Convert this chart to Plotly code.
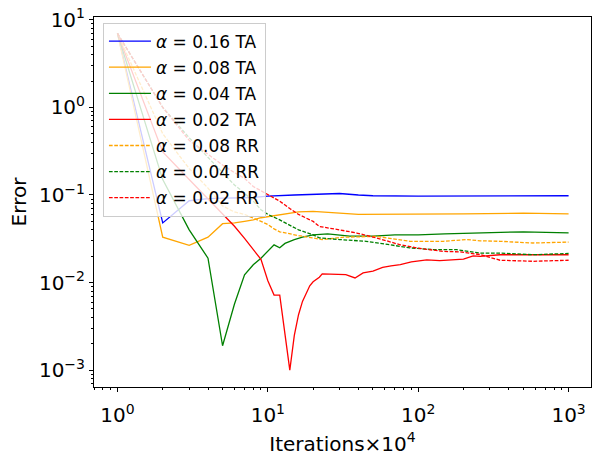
import plotly.graph_objects as go

# values (x = iterations x 10^4, y = error)
ta016_x = [1, 2, 3, 4, 5, 6, 7, 8, 10, 15, 20, 25, 30, 40, 50, 100, 200, 500, 1000]
ta016_y = [7, 0.048, 0.086, 0.091, 0.092, 0.092, 0.093, 0.094, 0.097, 0.1, 0.102, 0.104, 0.104, 0.1, 0.098,
           0.097, 0.097, 0.098, 0.098]

ta008_x = [1, 2, 3, 4, 5, 6, 7, 8, 9, 11, 13, 16, 20, 25, 30, 40, 50, 70, 100, 200, 500, 1000]
ta008_y = [7, 0.033, 0.0266, 0.033, 0.047, 0.048, 0.05, 0.052, 0.055, 0.058, 0.06, 0.064, 0.065, 0.064,
           0.062, 0.06, 0.06, 0.06, 0.06, 0.061, 0.062, 0.061]

ta004_x = [1, 2, 3, 4, 5, 6, 7, 8, 9, 10, 11, 12, 13, 15, 17, 20, 25, 35, 50, 70, 100, 150, 300, 500, 1000]
ta004_y = [7, 0.15, 0.04, 0.019, 0.0019, 0.0057, 0.0123, 0.016, 0.019, 0.023, 0.027, 0.025, 0.028, 0.031,
           0.033, 0.035, 0.036, 0.034, 0.034, 0.035, 0.035, 0.036, 0.037, 0.038, 0.037]

ta002_x = [1, 2, 3, 4, 5, 6, 7, 8, 9, 10, 11, 12, 13, 14, 15, 16, 17, 18, 19, 20, 22, 23, 25, 27, 30,
           33, 38, 43, 50, 58, 66, 76, 90, 114, 139, 163, 200, 232, 258, 350, 580, 1000]
ta002_y = [7, 0.31, 0.15, 0.09, 0.06, 0.044, 0.032, 0.024, 0.0184, 0.0105, 0.0072, 0.0072, 0.0027, 0.001,
           0.0025, 0.0043, 0.0061, 0.0076, 0.0092, 0.0102, 0.0115, 0.0126, 0.0125, 0.0126, 0.0125,
           0.0123, 0.0113, 0.0129, 0.0135, 0.0149, 0.0155, 0.016, 0.0172, 0.0182, 0.0178, 0.0182, 0.0185,
           0.0202, 0.0199, 0.0208, 0.0208, 0.0208]

rr008_x = [1, 2, 3, 4, 5, 6, 7, 8, 9, 10, 11, 12, 14, 16, 23, 32, 53, 88, 147, 210, 258, 350, 580, 1000]
rr008_y = [7, 0.5, 0.2, 0.12, 0.075, 0.064, 0.06, 0.055, 0.05, 0.046, 0.041, 0.038, 0.036, 0.0344, 0.031,
           0.033, 0.0337, 0.0296, 0.0296, 0.031, 0.03, 0.0296, 0.0283, 0.029]

rr004_x = [1, 2, 3, 4, 5, 6, 7, 8, 9, 10, 12, 14, 16, 20, 22, 30, 45, 65, 88, 126, 180, 258, 350, 580, 1000]
rr004_y = [7, 1.0, 0.45, 0.27, 0.18, 0.13, 0.105, 0.085, 0.068, 0.06, 0.052, 0.045, 0.04, 0.035, 0.0324,
           0.031, 0.0296, 0.027, 0.0249, 0.0238, 0.0238, 0.0217, 0.0217, 0.0208, 0.0215]

rr002_x = [1, 2, 3, 4, 5, 6, 7, 8, 10, 12, 14, 16, 20, 22, 30, 39, 53, 76, 98, 147, 190, 258, 350, 580, 1000]
rr002_y = [7, 1.0, 0.42, 0.29, 0.22, 0.18, 0.155, 0.125, 0.1, 0.085, 0.07, 0.06, 0.05, 0.0437, 0.04,
           0.0368, 0.0323, 0.027, 0.0248, 0.0227, 0.0224, 0.0209, 0.018, 0.0175, 0.018]

names = ["<i>α</i> = 0.16 TA", "<i>α</i> = 0.08 TA", "<i>α</i> = 0.04 TA", "<i>α</i> = 0.02 TA",
         "<i>α</i> = 0.08 RR", "<i>α</i> = 0.04 RR", "<i>α</i> = 0.02 RR"]

y_tickvals = [0.001, 0.01, 0.1, 1, 10]
y_ticktext = ["10<sup>−3</sup>", "10<sup>−2</sup>", "10<sup>−1</sup>", "10<sup>0</sup>", "10<sup>1</sup>"]
x_tickvals = [1, 10, 100, 1000]
x_ticktext = ["10<sup>0</sup>", "10<sup>1</sup>", "10<sup>2</sup>", "10<sup>3</sup>"]

series = [
    (ta016_x, ta016_y, "blue", "solid"),
    (ta008_x, ta008_y, "orange", "solid"),
    (ta004_x, ta004_y, "green", "solid"),
    (ta002_x, ta002_y, "red", "solid"),
    (rr008_x, rr008_y, "orange", "3.7px,1.6px"),
    (rr004_x, rr004_y, "green", "3.7px,1.6px"),
    (rr002_x, rr002_y, "red", "3.7px,1.6px"),
]

fig = go.Figure()
for i, (xs, ys, col, dash) in enumerate(series):
    fig.add_trace(go.Scatter(
        x=xs, y=ys, mode="lines", name=names[i], legendgroup="g%d" % i,
        line=dict(color=col, width=1.3, dash=dash),
    ))

axis_font = dict(family="DejaVu Sans", size=20, color="black")

fig.update_layout(
    width=600, height=463,
    margin=dict(l=94, r=9, t=17, b=76),
    paper_bgcolor="white", plot_bgcolor="white",
    font=dict(family="DejaVu Sans", color="black"),
    showlegend=True,
    legend=dict(
        x=0.018, y=0.985, xanchor="left", yanchor="top",
        bgcolor="rgba(255,255,255,0.8)", bordercolor="#cccccc", borderwidth=1,
        font=dict(family="DejaVu Sans", size=17, color="black"),
        traceorder="grouped", tracegroupgap=1, itemwidth=42,
    ),
    xaxis=dict(
        type="log", range=[-0.156, 3.149], automargin=False,
        tickmode="array", tickvals=x_tickvals, ticktext=x_ticktext,
        ticks="outside", ticklen=4, tickwidth=1, tickcolor="black", ticklabelstandoff=6,
        ticklabeloverflow="allow",
        minor=dict(ticks="outside", ticklen=2, tickwidth=0.8, tickcolor="black", dtick="D1", showgrid=False),
        showline=True, linecolor="black", linewidth=1, mirror=True,
        showgrid=False, zeroline=False, tickfont=axis_font,
        title=dict(text="Iterations×10<sup>4</sup>", font=axis_font, standoff=10),
    ),
    yaxis=dict(
        type="log", range=[-3.192, 1.032], automargin=False,
        tickmode="array", tickvals=y_tickvals, ticktext=y_ticktext,
        ticks="outside", ticklen=4, tickwidth=1, tickcolor="black",
        ticklabeloverflow="allow",
        minor=dict(ticks="outside", ticklen=2, tickwidth=0.8, tickcolor="black", dtick="D1", showgrid=False),
        showline=True, linecolor="black", linewidth=1, mirror=True,
        showgrid=False, zeroline=False, tickfont=axis_font,
        title=dict(text="Error", font=axis_font, standoff=6),
    ),
)

# drop the default 8px page margin so the figure fills the 600x463 window
fig.write_html("out.html", config={"displayModeBar": False},
               post_script="document.body.style.margin = '0';")
